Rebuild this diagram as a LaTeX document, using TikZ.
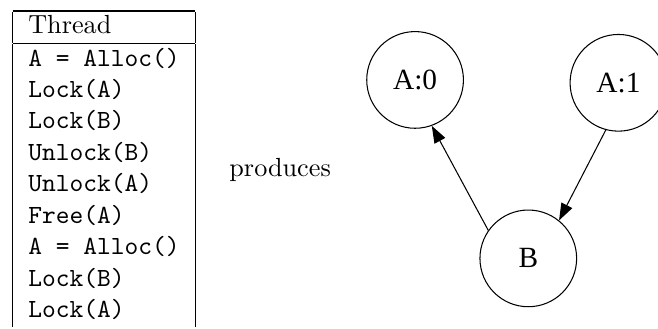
\documentclass[tikz,border=0pt]{standalone}
\usepackage{fontspec}
\newfontfamily\gvfont{Liberation Serif}
\usetikzlibrary{arrows.meta}
\begin{document}
\begin{tikzpicture}[x=1pt,y=1pt,
  state/.style={circle,draw,line width=0.4pt,minimum size=36.9pt,inner sep=0pt,font=\gvfont\fontsize{11.2}{13}\selectfont},
  edge/.style={draw,line width=0.4pt,-{Triangle[length=6.5pt,width=4.6pt]}}]
  \useasboundingbox (0,0) rectangle (251.1,-125.2);
  \clip (0,0) rectangle (251.1,-125.2);
  % the thread's sequence of operations
  \node[anchor=north west,inner sep=0pt] (thread) at (4.6,-3.8) {%
    \begin{tabular}{|l|}
      \hline
      Thread\\
      \hline
      \texttt{A = Alloc()}\\
      \texttt{Lock(A)}\\
      \texttt{Lock(B)}\\
      \texttt{Unlock(B)}\\
      \texttt{Unlock(A)}\\
      \texttt{Free(A)}\\
      \texttt{A = Alloc()}\\
      \texttt{Lock(B)}\\
      \texttt{Lock(A)}
    \end{tabular}};
  \node (produces) at (106.9,-64.9) {produces};
  % lock-order graph
  \node[state] (a0) at (158.4,-30.5) {A:0};
  \node[state] (a1) at (236.0,-31.6) {A:1};
  \node[state] (b)  at (201.6,-98.6) {B};
  \draw[edge] (b.145) -- (a0.-70);
  \draw[edge] (a1.-105) -- (b.51);
\end{tikzpicture}
\end{document}
